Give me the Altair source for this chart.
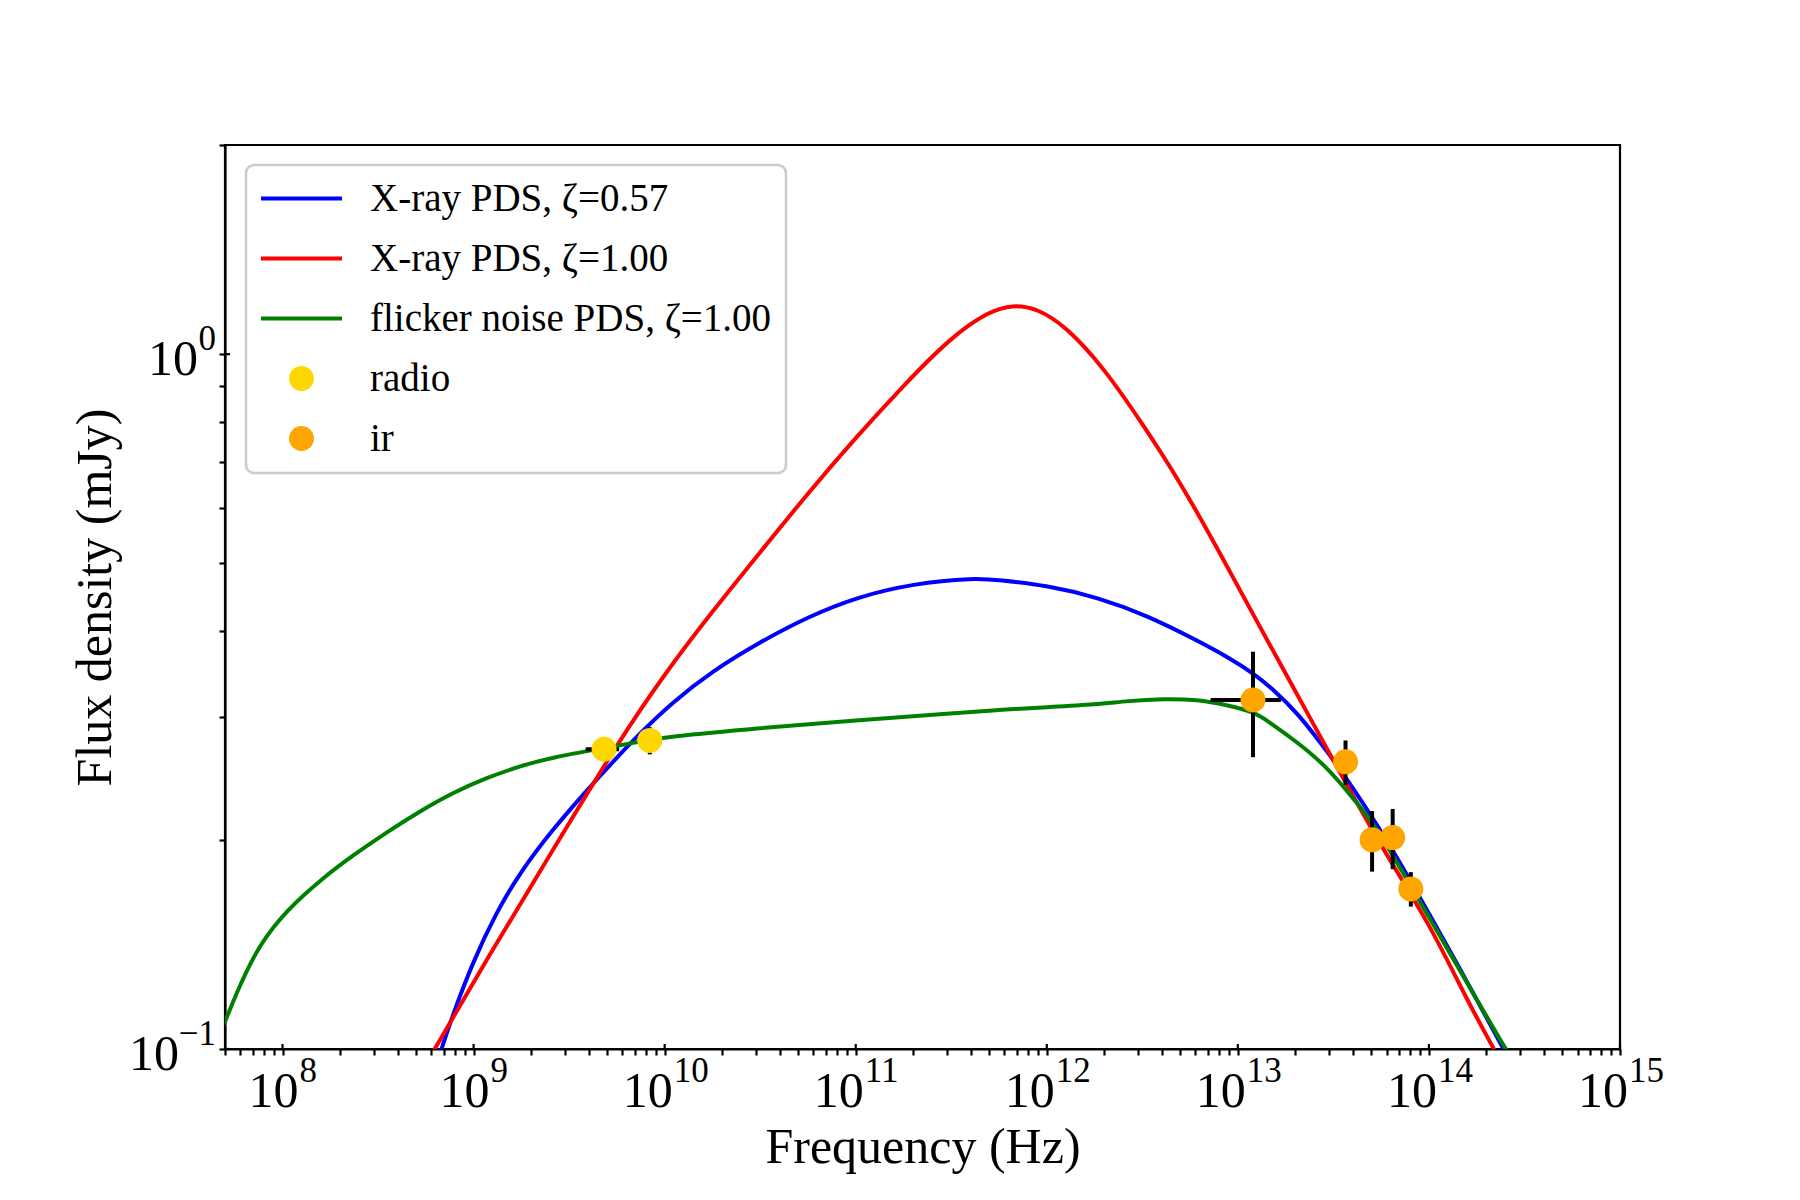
import altair as alt
import pandas as pd

# ---------------- data ----------------
series_names = ["X-ray PDS, ζ=0.57", "X-ray PDS, ζ=1.00",
                "flicker noise PDS, ζ=1.00", "radio", "ir"]
series_colors = ["#0000ff", "#ff0000", "#008000", "#ffd700", "#ffa500"]

# curves: log10(frequency / Hz) and log10(flux / mJy)
blue_log_nu = [8.80, 8.832, 8.892, 8.996, 9.118, 9.240, 9.414, 9.588, 9.762, 9.866,
               10.04, 10.25, 10.5, 10.75, 11.0, 11.3, 11.625, 11.744, 12.005, 12.265,
               12.526, 12.787, 12.961, 13.079, 13.187, 13.309, 13.5, 13.65, 13.813,
               14.0, 14.2, 14.39, 14.45]
blue_log_flux = [-1.028, -1.0, -0.950, -0.875, -0.804, -0.747, -0.684, -0.629, -0.577, -0.547,
                 -0.501, -0.456, -0.414, -0.378, -0.350, -0.330, -0.322, -0.325, -0.333, -0.350,
                 -0.376, -0.412, -0.438, -0.459, -0.483, -0.515, -0.583, -0.644, -0.714,
                 -0.805, -0.903, -1.0, -1.03]

red_log_nu = [8.70, 8.797, 9.066, 9.414, 9.762, 10.0, 10.25, 10.5, 10.75, 11.0, 11.25,
              11.5, 11.7, 11.82, 11.95, 12.1, 12.3, 12.5, 12.7, 12.9, 13.1, 13.309, 13.5,
              13.761, 14.004, 14.2, 14.34, 14.4]
red_log_flux = [-1.045, -1.0, -0.872, -0.714, -0.556, -0.46, -0.37, -0.285, -0.20, -0.12, -0.045,
                0.025, 0.062, 0.071, 0.066, 0.04, -0.02, -0.10, -0.185, -0.283, -0.385, -0.489, -0.585,
                -0.714, -0.82, -0.93, -1.0, -1.03]

green_log_nu = [7.69, 7.779, 7.883, 8.023, 8.197, 8.370, 8.545, 8.718, 8.892, 9.066, 9.240,
                9.414, 9.683, 9.866, 10.0, 10.5, 11.0, 11.5, 11.744, 12.0, 12.265, 12.422,
                12.613, 12.787, 12.944, 13.083, 13.152, 13.309, 13.45, 13.58, 13.7, 13.796,
                14.0, 14.2, 14.4, 14.45]
green_log_flux = [-0.967, -0.906, -0.848, -0.800, -0.757, -0.721, -0.688, -0.658, -0.631, -0.610, -0.593,
                  -0.580, -0.567, -0.558, -0.551, -0.538, -0.527, -0.517, -0.512, -0.508, -0.504, -0.499,
                  -0.496, -0.497, -0.505, -0.515, -0.527, -0.558, -0.590, -0.631, -0.672, -0.714,
                  -0.81, -0.905, -1.0, -1.02]

# measured points
radio_nu = [4.82e9, 8.36e9]
radio_flux = [0.270, 0.278]
radio_flux_err = [0.008, 0.0125]
radio_nu_err = [0.96e9, 0.0]

ir_nu = [1.20e13, 3.66e13, 5.04e13, 6.46e13, 8.04e13]
ir_flux = [0.318, 0.259, 0.200, 0.2015, 0.170]
ir_flux_err = [0.055, 0.019, 0.020, 0.020, 0.0097]
ir_nu_err = [4.8e12, 0.0, 0.0, 0.0, 0.0]

# axis ticks / tick labels
x_tick_exp = [8, 9, 10, 11, 12, 13, 14, 15]
y_tick_exp = [-1, 0]
y_tick_exp_text = ["\u22121", "0"]

# ---------------- tables ----------------
rows = []
for name, lx, ly in [(series_names[0], blue_log_nu, blue_log_flux),
                     (series_names[1], red_log_nu, red_log_flux),
                     (series_names[2], green_log_nu, green_log_flux)]:
    for a, b in zip(lx, ly):
        rows.append({"series": name, "nu": 10.0 ** a, "flux": 10.0 ** b})
lines_df = pd.DataFrame(rows)

pts_df = pd.DataFrame({
    "series": ["radio"] * len(radio_nu) + ["ir"] * len(ir_nu),
    "nu": radio_nu + ir_nu,
    "flux": radio_flux + ir_flux,
    "ferr": radio_flux_err + ir_flux_err,
    "nerr": radio_nu_err + ir_nu_err,
})
pts_df["flo"] = pts_df["flux"] - pts_df["ferr"]
pts_df["fhi"] = pts_df["flux"] + pts_df["ferr"]
pts_df["nlo"] = pts_df["nu"] - pts_df["nerr"]
pts_df["nhi"] = pts_df["nu"] + pts_df["nerr"]

xlab_df = pd.DataFrame({"nu": [10.0 ** e for e in x_tick_exp],
                        "exp": [str(e) for e in x_tick_exp],
                        "ndig": [len(str(e)) for e in x_tick_exp]})
ylab_df = pd.DataFrame({"flux": [10.0 ** e for e in y_tick_exp],
                        "exp": y_tick_exp_text,
                        "e": y_tick_exp})
legend_df = pd.DataFrame({"series": series_names})

x_major = [10.0 ** e for e in x_tick_exp]
x_minor = [m * 10.0 ** k for k in range(7, 15) for m in range(2, 10)
           if 5e7 <= m * 10.0 ** k <= 1e15]
y_ticks = [round(0.1 * m, 2) for m in range(1, 10)] + [1.0, 2.0]

# ---------------- chart ----------------
W, H = 1395, 904
FONT = "Liberation Serif"
TICK_FS, EXP_FS = 50, 35

xs = alt.Scale(type="log", domain=[5e7, 1e15], nice=False)
ys = alt.Scale(type="log", domain=[0.1, 2.0], nice=False)
cs = alt.Scale(domain=series_names, range=series_colors)
line_path = "M-3.24,-0.16H3.24V0.16H-3.24Z"
ss = alt.Scale(domain=series_names, range=[line_path, line_path, line_path, "circle", "circle"])

leg = alt.Legend(orient="none", legendX=21, legendY=20, title=None, labelFont=FONT,
                 labelFontSize=39, labelColor="black", labelLimit=2000, labelOffset=49,
                 symbolOffset=22, symbolSize=625, symbolStrokeWidth=0, symbolOpacity=1,
                 rowPadding=20, padding=14, strokeColor="#cccccc",
                 fillColor="rgba(255,255,255,0.8)", cornerRadius=8)

xaxis = alt.Axis(values=sorted(x_major + x_minor), labels=False, tickSize=6, tickWidth=2.2,
                 tickColor="black", domainColor="black", domainWidth=2.2, grid=False,
                 title="Frequency (Hz)", titleFont=FONT, titleFontSize=50,
                 titleFontWeight="normal", titleColor="black", titlePadding=106,
                 titleBaseline="alphabetic")
yaxis = alt.Axis(values=y_ticks, labels=False, tickSize=6, tickWidth=2.2,
                 tickColor="black", domainColor="black", domainWidth=2.2, grid=False,
                 title="Flux density (mJy)", titleFont=FONT, titleFontSize=50,
                 titleFontWeight="normal", titleColor="black", titlePadding=107,
                 titleBaseline="alphabetic")

# legend carrier (first layer, draws nothing)
legend_layer = alt.Chart(legend_df).transform_filter("false").mark_point(
    filled=True, opacity=1).encode(
    color=alt.Color("series:N", scale=cs, legend=leg),
    shape=alt.Shape("series:N", scale=ss, legend=leg),
)

lines = alt.Chart(lines_df).mark_line(strokeWidth=4, clip=True, interpolate="basis").encode(
    x=alt.X("nu:Q", scale=xs, axis=xaxis),
    y=alt.Y("flux:Q", scale=ys, axis=yaxis),
    color=alt.Color("series:N", scale=cs, legend=leg),
    detail="series:N",
)

ebar_v = alt.Chart(pts_df).mark_rule(color="black", strokeWidth=4).encode(
    x=alt.X("nu:Q", scale=xs),
    y=alt.Y("flo:Q", scale=ys),
    y2="fhi:Q",
)
ebar_h = alt.Chart(pts_df).mark_rule(color="black", strokeWidth=4).encode(
    x=alt.X("nlo:Q", scale=xs),
    x2="nhi:Q",
    y=alt.Y("flux:Q", scale=ys),
)
points = alt.Chart(pts_df).mark_circle(size=625, opacity=1).encode(
    x=alt.X("nu:Q", scale=xs),
    y=alt.Y("flux:Q", scale=ys),
    color=alt.Color("series:N", scale=cs, legend=leg),
)

# inward part of the major ticks
xin = alt.Chart(xlab_df).mark_rule(color="black", strokeWidth=2.2).encode(
    x=alt.X("nu:Q", scale=xs), y=alt.value(H), y2=alt.value(H - 5))
yin = alt.Chart(ylab_df).mark_rule(color="black", strokeWidth=2.2).encode(
    y=alt.Y("flux:Q", scale=ys), x=alt.value(0), x2=alt.value(5))

# tick labels 10^n
def xlabels(nd, dx_main):
    base = alt.Chart(xlab_df).transform_filter(alt.datum.ndig == nd)
    main = base.mark_text(text="10", font=FONT, fontSize=TICK_FS, align="right",
                          baseline="alphabetic", dx=dx_main, dy=58, color="black").encode(
        x=alt.X("nu:Q", scale=xs), y=alt.value(H))
    sup = base.mark_text(font=FONT, fontSize=EXP_FS, align="left",
                         baseline="alphabetic", dx=dx_main + 1, dy=33, color="black").encode(
        x=alt.X("nu:Q", scale=xs), y=alt.value(H), text="exp:N")
    return [main, sup]

def ylabel_main(e, dx_main):
    return alt.Chart(ylab_df).transform_filter(alt.datum.e == e).mark_text(
        text="10", font=FONT, fontSize=TICK_FS, align="right", baseline="alphabetic",
        dx=dx_main, dy=21, color="black").encode(
        y=alt.Y("flux:Q", scale=ys), x=alt.value(0))

ysup = alt.Chart(ylab_df).mark_text(font=FONT, fontSize=EXP_FS, align="right",
                                    baseline="alphabetic", dx=-9, dy=-4, color="black").encode(
    y=alt.Y("flux:Q", scale=ys), x=alt.value(0), text="exp:N")

layers = [legend_layer, lines, ebar_v, ebar_h, points, xin, yin] + xlabels(1, 16) + \
         xlabels(2, 8) + [ylabel_main(0, -27), ylabel_main(-1, -46), ysup]

chart = alt.layer(*layers).properties(
    width=W, height=H,
    padding={"left": 217, "top": 137, "right": 172, "bottom": 143},
    autosize=alt.AutoSizeParams(type="none"),
    background="white",
).configure_view(stroke="black", strokeWidth=2.2).configure_legend(strokeWidth=2.6)

chart.save("out.html", embed_options={"renderer": "svg", "actions": False})
